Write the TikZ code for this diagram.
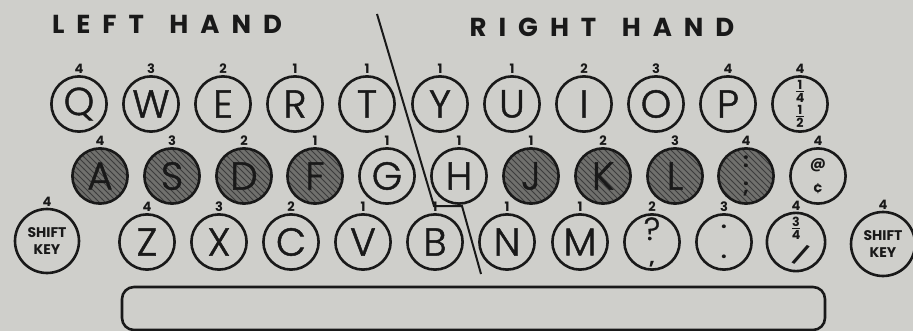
\documentclass[tikz,border=0pt]{standalone}
\usepackage{fontspec}
\usepackage{xcolor}
\usepackage{graphicx}
\usetikzlibrary{patterns}
\IfFontExistsTF{Poppins Light}
  {\newfontfamily\keyfont{Poppins Light}[FakeBold=1.2]}
  {\newfontfamily\keyfont{Poppins}}
\newfontfamily\numfont{Poppins}
\newfontfamily\titlefont{Poppins}[LetterSpace=46]
\definecolor{paper}{RGB}{207,207,203}
\definecolor{ink}  {RGB}{ 25, 25, 25}
\definecolor{hatch}{RGB}{112,112,109}
% stacked fraction for the small key signs
\newcommand\kfrac[2]{\vbox{\offinterlineskip\halign{\hfil##\hfil\cr
  #1\cr\noalign{\kern0.7pt\hrule height 0.5pt\kern0.7pt}#2\cr}}}
\tikzset{
  % plain key
  KY/.style={circle,draw=ink,fill=paper,line width=1.3pt,minimum size=27.6pt,
             inner sep=0pt,text=ink,
             font=\keyfont\fontsize{19.5}{20}\selectfont},
  % home key, hatched
  HK/.style={KY,preaction={fill=hatch},pattern=north west lines,
             pattern color=ink!85},
  % shift key
  SK/.style={KY,minimum size=32pt,align=center,
             font=\numfont\bfseries\fontsize{7}{8.5}\selectfont},
  % key with small signs
  SY/.style={KY,align=center,
             font=\numfont\bfseries\fontsize{6.3}{6.5}\selectfont},
  % finger number
  FN/.style={label={[font=\numfont\bfseries\fontsize{6.5}{7}\selectfont,
             text=ink,inner sep=0.6pt]above:#1}},
  % hand title
  TT/.style={text=ink,font=\titlefont\bfseries\fontsize{13}{14}\selectfont},
}
\begin{document}
\begin{tikzpicture}[x=0.5pt,y=-0.5pt]
\useasboundingbox (0,0) rectangle (913,331);
\fill[paper] (0,0) rectangle (913,331);
% ── titles ───────────────────────────────
\node[TT] at (167,24) (lh) {LEFT\hspace{4pt} HAND};
\node[TT] at (602,27) (rh) {RIGHT\hspace{4pt} HAND};
% ── hand divider ─────────────────────────
\coordinate (d1) at (377,14);
\coordinate (d2) at (434,206);
\coordinate (d3) at (462,206);
\coordinate (d4) at (481,274);
\draw[ink,line width=1pt] (d1) -- (d2) -- (d3) -- (d4);
% ── top row ──────────────────────────────
\node[KY,FN=4] at (79,104)  (q) {Q};
\node[KY,FN=3] at (151,104) (w) {W};
\node[KY,FN=2] at (223,104) (e) {E};
\node[KY,FN=1] at (295,104) (r) {R};
\node[KY,FN=1] at (367,104) (t) {T};
\node[KY,FN=1] at (440,104) (y) {Y};
\node[KY,FN=1] at (512,104) (u) {U};
\node[KY,FN=2] at (584,104) (i) {I};
\node[KY,FN=3] at (656,104) (o) {O};
\node[KY,FN=4] at (728,104) (p) {P};
\node[SY,FN=4] at (800,104) (frc) {\kfrac14\\[0.5pt]\kfrac12};
% ── home row ─────────────────────────────
\node[HK,FN=4] at (100,176) (a) {A};
\node[HK,FN=3] at (172,176) (s) {S};
\node[HK,FN=2] at (244,176) (d) {D};
\node[HK,FN=1] at (315,176) (f) {F};
\node[KY,FN=1] at (387,176) (g) {G};
\node[KY,FN=1] at (459,176) (h) {H};
\node[HK,FN=1] at (531,176) (j) {J};
\node[HK,FN=2] at (603,176) (k) {K};
\node[HK,FN=3] at (675,176) (l) {L};
\node[HK,FN=4,align=center,font=\numfont\bfseries\fontsize{10}{11}\selectfont]
  at (746,176) (semi) {:\\[2pt];};
\node[SY,FN=4,font=\numfont\bfseries\fontsize{7.5}{8}\selectfont]
  at (818,176) (cent) {@\\[4pt]¢};
% ── bottom row ───────────────────────────
\node[SK,FN=4] at (47,241) (lsh) {SHIFT\\KEY};
\node[KY,FN=4] at (147,242) (z) {Z};
\node[KY,FN=3] at (219,242) (x) {X};
\node[KY,FN=2] at (291,242) (c) {C};
\node[KY,FN=1] at (363,242) (v) {V};
\node[KY,FN=1] at (435,242) (b) {B};
\node[KY,FN=1] at (507,242) (n) {N};
\node[KY,FN=1] at (580,242) (m) {M};
\node[KY,FN=2,align=center,font=\keyfont\fontsize{16}{12}\selectfont]
  at (652,242) (qm) {?\\[0pt]{\numfont\bfseries\fontsize{10}{10}\selectfont ,}};
\node[KY,FN=3,align=center,font=\numfont\bfseries\fontsize{10}{11}\selectfont]
  at (724,242) (dot) {.\\[4pt].};
\node[SY,FN=4] at (796,242) (thr)
  {\kfrac34\\[1pt]\hspace{5pt}{\fontsize{10}{10}\selectfont\rotatebox{-28}{/}}};
\node[SK,FN=4] at (883,244) (rsh) {SHIFT\\KEY};
% ── space bar ────────────────────────────
\draw[ink,line width=1.3pt,rounded corners=6pt] (122,287) rectangle (825,330);
\end{tikzpicture}
\end{document}
